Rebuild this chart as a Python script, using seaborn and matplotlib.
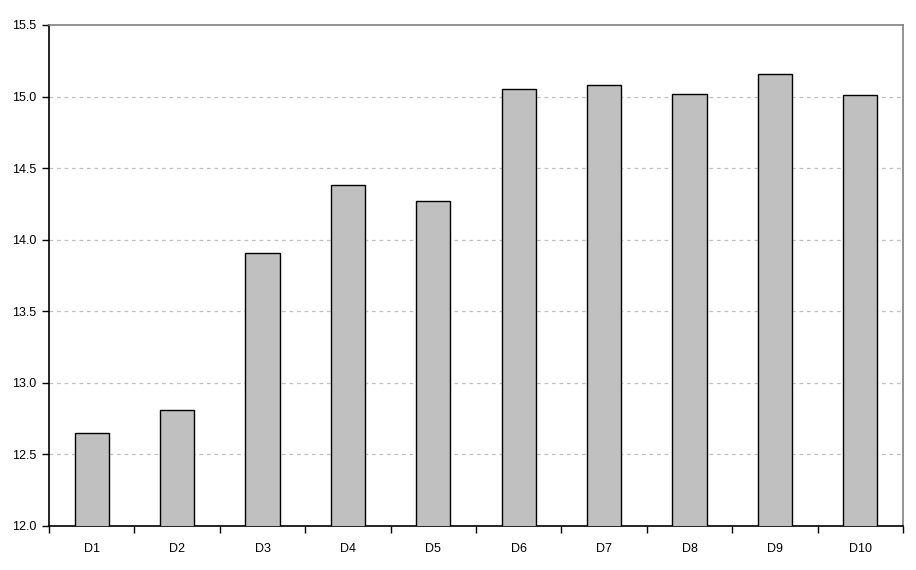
import matplotlib
matplotlib.use("Agg")
import matplotlib.pyplot as plt
import numpy as np
import pandas as pd
import seaborn as sns

# Bar values
categories = ["D1", "D2", "D3", "D4", "D5", "D6", "D7", "D8", "D9", "D10"]
values = [12.65, 12.81, 13.91, 14.38, 14.27, 15.05, 15.08, 15.02, 15.16, 15.01]
y_ticks = [12.0, 12.5, 13.0, 13.5, 14.0, 14.5, 15.0, 15.5]

df = pd.DataFrame({"cat": categories, "val": values})

sns.set_style("white", {"xtick.bottom": True, "ytick.left": True,
                        "text.color": "black", "xtick.color": "black",
                        "ytick.color": "black"})
plt.rcParams["font.family"] = ["Liberation Sans", "DejaVu Sans"]

fig = plt.figure(figsize=(9.16, 5.70), dpi=100)
ax = fig.add_axes([49 / 916, 1 - 526 / 570, (903 - 49) / 916, (526 - 25) / 570])

sns.barplot(data=df, x="cat", y="val", color="#C0C0C0", saturation=1,
            edgecolor="black", linewidth=1.0, width=0.4, ax=ax, zorder=3)

ax.set_ylim(12.0, 15.5)
ax.set_xlim(-0.5, len(categories) - 0.5)
ax.set_yticks(y_ticks)
ax.set_yticklabels([f"{t:.1f}" for t in y_ticks])
ax.set_xlabel("")
ax.set_ylabel("")

# dashed horizontal grid
for t in y_ticks[1:-1]:
    ax.axhline(t, color="#C0C0C0", linestyle=(0, (3, 3)), linewidth=0.9, zorder=1)

# ticks between categories on x
ax.set_xticks(np.arange(-0.5, len(categories), 1.0), minor=True)
ax.tick_params(axis="x", which="major", length=0, pad=12, labelsize=9,
               labelcolor="black")
ax.tick_params(axis="x", which="minor", length=5, width=1, color="black",
               direction="out", bottom=True)
ax.tick_params(axis="y", which="major", length=5, width=1, color="black",
               direction="out", labelsize=9, pad=4, left=True, labelcolor="black")

for side in ["left", "bottom"]:
    ax.spines[side].set_color("black")
    ax.spines[side].set_linewidth(1.2)
for side in ["top", "right"]:
    ax.spines[side].set_color("#808080")
    ax.spines[side].set_linewidth(1.2)

fig.savefig("out.png", dpi=100)
